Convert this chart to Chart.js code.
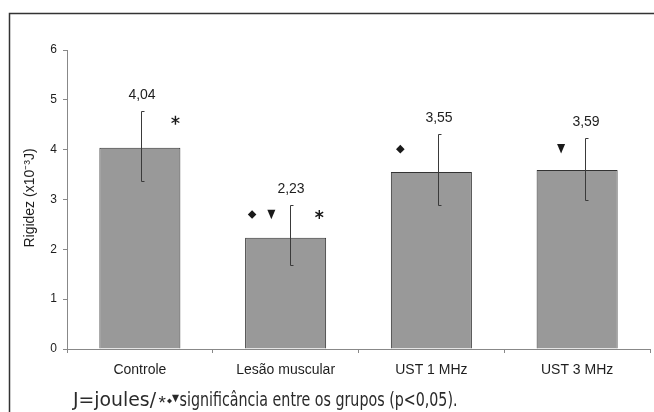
<!DOCTYPE html>
<html lang="pt">
<head>
<meta charset="UTF-8">
<title>Rigidez</title>
<script src="https://cdn.jsdelivr.net/npm/chart.js"></script>
<style>
  html, body { margin: 0; padding: 0; background: #fff; }
  #wrap { width: 654px; height: 412px; }
</style>
</head>
<body>
<div id="wrap"><canvas id="chart" width="654" height="412"></canvas></div>
<script>
// data
const categories = ['Controle', 'Lesão muscular', 'UST 1 MHz', 'UST 3 MHz'];
const means = [4.04, 2.23, 3.55, 3.59];
const errHigh = [4.77, 2.88, 4.32, 4.24];
const errLow = [3.38, 1.69, 2.89, 3.00];
const valueLabels = ['4,04', '2,23', '3,55', '3,59'];
const yTicks = [0, 1, 2, 3, 4, 5, 6];

// significance marks: symbol, group, height (x10-3 J)
const markSymbols = ['*', 'diamond', 'tri', '*', 'diamond', 'tri'];
const markGroup = [0, 1, 1, 1, 2, 3];
const markValue = [4.59, 2.70, 2.70, 2.70, 4.01, 4.02];

const FONT = '"Liberation Sans", Arial, sans-serif';
const NARROW = '"Liberation Sans Narrow", "DejaVu Sans Condensed", sans-serif';

function drawStar(ctx, x, y, r) {
    ctx.beginPath();
    for (let k = 0; k < 3; k++) {
        const a = Math.PI / 2 + k * Math.PI / 3;
        ctx.moveTo(x + r * Math.cos(a), y + r * Math.sin(a));
        ctx.lineTo(x - r * Math.cos(a), y - r * Math.sin(a));
    }
    ctx.stroke();
}
function drawDiamond(ctx, x, y, r) {
    ctx.beginPath();
    ctx.moveTo(x, y - r); ctx.lineTo(x + r, y); ctx.lineTo(x, y + r); ctx.lineTo(x - r, y);
    ctx.closePath(); ctx.fill();
}
function drawTri(ctx, x, y, w, h) {
    ctx.beginPath();
    ctx.moveTo(x - w / 2, y - h / 2); ctx.lineTo(x + w / 2, y - h / 2); ctx.lineTo(x, y + h / 2);
    ctx.closePath(); ctx.fill();
}
function drawMark(ctx, sym, x, y) {
    if (sym === '*') drawStar(ctx, x, y, 4.5);
    else if (sym === 'diamond') drawDiamond(ctx, x, y, 4.3);
    else drawTri(ctx, x, y, 8, 9.5);
}

const extras = {
    id: 'extras',
    afterDatasetsDraw(chart, args, opts) {
        const ctx = chart.ctx;
        const xs = chart.scales.x, ys = chart.scales.y;
        const meta = chart.getDatasetMeta(0);
        const catW = (xs.right - xs.left) / categories.length;
        ctx.save();
        // error bars, caps only on the right side
        ctx.strokeStyle = '#3a3a3a';
        ctx.lineWidth = 1;
        meta.data.forEach((bar, i) => {
            const x = Math.round(bar.x + opts.errShift[i]) + 0.5;
            const yt = Math.round(ys.getPixelForValue(errHigh[i])) + 0.5;
            const yb = Math.round(ys.getPixelForValue(errLow[i])) + 0.5;
            ctx.beginPath();
            ctx.moveTo(x + 3, yt); ctx.lineTo(x, yt); ctx.lineTo(x, yb); ctx.lineTo(x + 3, yb);
            ctx.stroke();
            ctx.fillStyle = '#1e1e1e';
            ctx.font = '14px ' + FONT;
            ctx.textAlign = 'center';
            ctx.textBaseline = 'middle';
            ctx.fillText(valueLabels[i], x + 0.5, yt - 16);
        });
        // significance marks
        ctx.fillStyle = '#1a1a1a';
        ctx.strokeStyle = '#1a1a1a';
        ctx.lineWidth = 1.4;
        markSymbols.forEach((sym, k) => {
            const x = xs.getPixelForValue(markGroup[k]) + opts.markShift[k] * catW;
            const y = ys.getPixelForValue(markValue[k]);
            drawMark(ctx, sym, x, y);
        });
        ctx.restore();
    },
    afterDraw(chart) {
        const ctx = chart.ctx;
        ctx.save();
        // frame
        ctx.strokeStyle = '#333';
        ctx.lineWidth = 1.5;
        ctx.beginPath();
        ctx.moveTo(9.5, 412); ctx.lineTo(9.5, 13.5); ctx.lineTo(654, 13.5);
        ctx.stroke();
        // y title
        ctx.fillStyle = '#1e1e1e';
        ctx.font = '14px ' + FONT;
        ctx.translate(30, 198);
        ctx.rotate(-Math.PI / 2);
        ctx.textAlign = 'center';
        ctx.textBaseline = 'middle';
        ctx.fillText('Rigidez (x10\u207B\u00B3J)', 0, 0);
        ctx.restore();

        // footnote
        ctx.save();
        ctx.fillStyle = '#2a2a2a';
        ctx.textBaseline = 'alphabetic';
        ctx.textAlign = 'left';
        const base = 406;
        const fit = (txt, x, w) => {
            const m = ctx.measureText(txt).width;
            ctx.save();
            ctx.translate(x, base);
            ctx.scale(w / m, 1);
            ctx.fillText(txt, 0, 0);
            ctx.restore();
        };
        ctx.font = '20px ' + NARROW;
        fit('J=joules/', 73, 83);
        ctx.font = '19px ' + FONT;
        ctx.fillText('*', 158.5, 409);
        drawDiamond(ctx, 169.5, 401, 2.5);
        drawTri(ctx, 175.5, 398.5, 7, 7.5);
        ctx.font = '20px ' + NARROW;
        fit('significância entre os grupos (p<0,05).', 179.5, 278);
        ctx.restore();
    }
};

new Chart(document.getElementById('chart'), {
    type: 'bar',
    data: {
        labels: categories,
        datasets: [{
            data: means,
            backgroundColor: '#999999',
            borderColor: '#333333',
            borderWidth: 1,
            barPercentage: 0.556,
            categoryPercentage: 1
        }]
    },
    options: {
        responsive: false,
        animation: false,
        devicePixelRatio: 1,
        layout: { padding: { top: 50, right: 4, left: 0, bottom: 0 } },
        plugins: {
            legend: { display: false },
            tooltip: { enabled: false },
            extras: {
                errShift: [1, 4, 7, 8],
                markShift: [0.244, -0.23, -0.098, 0.231, -0.213, -0.11]
            }
        },
        scales: {
            x: {
                grid: { drawOnChartArea: false, offset: true, tickLength: 4, color: '#888' },
                border: { color: '#888' },
                ticks: { color: '#1e1e1e', font: { family: FONT, size: 14 }, padding: 9, maxRotation: 0 },
                afterFit: s => { s.height = 63; }
            },
            y: {
                min: 0,
                max: 6,
                afterBuildTicks: s => { s.ticks = yTicks.map(v => ({ value: v })); },
                grid: { drawOnChartArea: false, tickLength: 4, color: '#888' },
                border: { color: '#888' },
                ticks: { color: '#1e1e1e', font: { family: FONT, size: 12 }, padding: 6 },
                afterFit: s => { s.width = 67; }
            }
        }
    },
    plugins: [extras]
});
</script>
</body>
</html>
